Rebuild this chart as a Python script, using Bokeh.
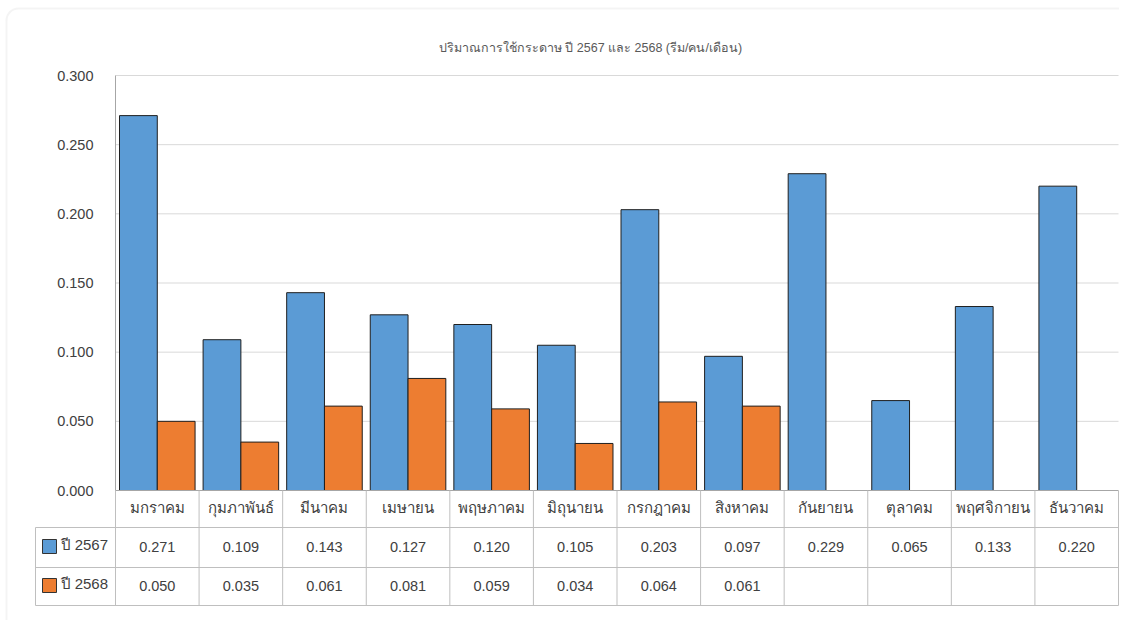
import math
from bokeh.plotting import figure
from bokeh.models import FixedTicker, NumeralTickFormatter, Range1d, BoxAnnotation
from bokeh.core.properties import value
from bokeh.embed import file_html
from bokeh.resources import INLINE

# ---------------- data ----------------
months = ["มกราคม", "กุมภาพันธ์", "มีนาคม", "เมษายน", "พฤษภาคม", "มิถุนายน",
          "กรกฎาคม", "สิงหาคม", "กันยายน", "ตุลาคม", "พฤศจิกายน", "ธันวาคม"]
values_2567 = [0.271, 0.109, 0.143, 0.127, 0.120, 0.105, 0.203, 0.097, 0.229, 0.065, 0.133, 0.220]
values_2568 = [0.050, 0.035, 0.061, 0.081, 0.059, 0.034, 0.064, 0.061, None, None, None, None]
series_names = ["ปี 2567", "ปี 2568"]
series_colors = ["#5B9BD5", "#ED7D31"]
y_ticks = [0.0, 0.05, 0.10, 0.15, 0.20, 0.25, 0.30]
title_text = "ปริมาณการใช้กระดาษ ปี 2567 และ 2568 (รีม/คน/เดือน)"

# ---------------- layout helpers (pixel -> data) ----------------
W, H = 1119, 620
X_LEFT_PX = 115       # canvas px of x = -0.5 (plot left edge)
X_RIGHT_PX = 1118     # canvas px of x = 11.5
PX_X = (X_RIGHT_PX - X_LEFT_PX) / 12.0
Y0_PX = 490           # canvas px of y = 0
PX_Y = 415 / 0.3      # px per unit of y


def X(px):
    return -0.5 + (px - X_LEFT_PX) / PX_X


def Y(py):
    return (Y0_PX - py) / PX_Y


FONT = value("Liberation Sans")
TXT = "#404040"
GRID = "#d9d9d9"
TABLE = "#bfbfbf"

p = figure(width=W, height=H, output_backend="svg", toolbar_location=None,
           x_range=Range1d(X(0), X(W)), y_range=Range1d(Y(H), Y(0)),
           x_axis_location=None, y_axis_location="left", min_border=0,
           tools="")
p.outline_line_color = None
p.xgrid.visible = False
p.ygrid.visible = False

# card border
p.add_layout(BoxAnnotation(left=X(6), right=X(W + 40), top=Y(8), bottom=Y(H + 60),
                           fill_color=None, line_color="#dcdcdc", line_width=2,
                           border_radius=12))

n = len(months)
xs = list(range(n))

# gridlines
p.segment(x0=[-0.5] * len(y_ticks[1:]), x1=[n - 0.5] * len(y_ticks[1:]),
          y0=y_ticks[1:], y1=y_ticks[1:], line_color=GRID, line_width=1)

# bars
bw = 0.452
v1 = [v for v in values_2567]
v2 = [float("nan") if v is None else v for v in values_2568]
p.vbar(x=[i - bw / 2 for i in xs], top=v1, bottom=0, width=bw,
       fill_color=series_colors[0], line_color="#1f1f1f", line_width=1)
p.vbar(x=[i + bw / 2 for i in xs], top=v2, bottom=0, width=bw,
       fill_color=series_colors[1], line_color="#1f1f1f", line_width=1)

# y axis at plot left edge
ax = p.yaxis[0]
ax.fixed_location = -0.5
ax.bounds = (0, 0.3)
ax.ticker = FixedTicker(ticks=y_ticks)
ax.formatter = NumeralTickFormatter(format="0.000")
ax.axis_line_color = "#a6a6a6"
ax.major_tick_line_color = None
ax.minor_tick_line_color = None
ax.major_tick_out = 0
ax.major_tick_in = 0
ax.major_label_standoff = 22
ax.major_label_text_font = "Liberation Sans"
ax.major_label_text_font_size = "14.5px"
ax.major_label_text_color = TXT

# ---------------- data table ----------------
row_top = Y(527)
row_mid = Y(567)
row_bot = Y(605)
leg_left = X(35)

# x-axis line
p.segment(x0=[-0.5], x1=[n - 0.5], y0=[0], y1=[0], line_color="#a6a6a6", line_width=1)
# vertical separators
p.segment(x0=[k - 0.5 for k in range(n + 1)], x1=[k - 0.5 for k in range(n + 1)],
          y0=[0] * (n + 1), y1=[row_bot] * (n + 1), line_color=TABLE, line_width=1)
p.segment(x0=[leg_left], x1=[leg_left], y0=[row_top], y1=[row_bot], line_color=TABLE, line_width=1)
# horizontal separators
p.segment(x0=[leg_left] * 3, x1=[n - 0.5] * 3, y0=[row_top, row_mid, row_bot],
          y1=[row_top, row_mid, row_bot], line_color=TABLE, line_width=1)

# header (months)
p.text(x=xs, y=[Y(507)] * n, text=months, text_align="center", text_baseline="middle",
       text_font=FONT, text_font_size=value("15px"), text_color=TXT)
# rows
r1 = ["%.3f" % v for v in values_2567]
r2 = ["" if v is None else "%.3f" % v for v in values_2568]
p.text(x=xs, y=[Y(546)] * n, text=r1, text_align="center", text_baseline="middle",
       text_font=FONT, text_font_size=value("14.5px"), text_color=TXT)
p.text(x=xs, y=[Y(585)] * n, text=r2, text_align="center", text_baseline="middle",
       text_font=FONT, text_font_size=value("14.5px"), text_color=TXT)

# legend keys
p.scatter(x=[X(49)] * 2, y=[Y(546), Y(585)], marker="square", size=14,
          fill_color=series_colors, line_color="#333333", line_width=1)
p.text(x=[X(60)] * 2, y=[Y(544), Y(583)], text=series_names, text_align="left",
       text_baseline="middle", text_font=FONT, text_font_size=value("15px"), text_color=TXT)

# title
p.text(x=[X(590)], y=[Y(47)], text=[title_text], text_align="center", text_baseline="middle",
       text_font=FONT, text_font_size=value("12.5px"), text_color="#595959")

open("out.html", "w").write(file_html(p, INLINE))
